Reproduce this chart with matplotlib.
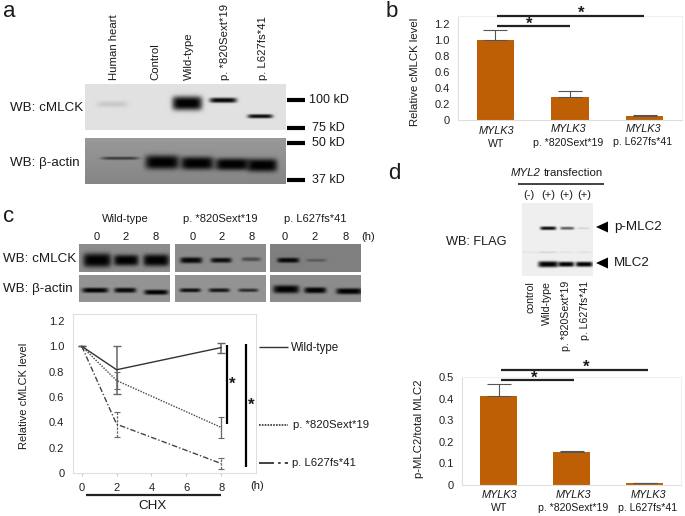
import numpy as np
import matplotlib
matplotlib.use('Agg')
import matplotlib.pyplot as plt

plt.rcParams['font.family'] = ['Liberation Sans', 'DejaVu Sans']
W, H = 685, 516

# panel b
b_values = [1.0, 0.285, 0.045]
b_errors = [0.12, 0.075, 0.02]
b_ticks = [0, 0.2, 0.4, 0.6, 0.8, 1.0, 1.2]
b_ticklabels = ['0', '0.2', '0.4', '0.6', '0.8', '1.0', '1.2']

# panel d
d_values = [0.413, 0.153, 0.006]
d_errors = [0.057, 0.006, 0.004]
d_ticks = [0, 0.1, 0.2, 0.3, 0.4, 0.5]
d_ticklabels = ['0', '0.1', '0.2', '0.3', '0.4', '0.5']

# panel c
hours = [0, 2, 8]
wt_level = [1.0, 0.815, 0.99]
wt_err = [0, 0.19, 0.04]
sext_level = [1.0, 0.73, 0.36]
sext_err = [0, 0.07, 0.085]
fs_level = [1.0, 0.385, 0.075]
fs_err = [0, 0.1, 0.045]
c_xticks = [0, 2, 4, 6, 8]
c_yticks = [0, 0.2, 0.4, 0.6, 0.8, 1.0, 1.2]
c_yticklabels = ['0', '0.2', '0.4', '0.6', '0.8', '1.0', '1.2']

# band strengths on the blots
a_lanes_top = [0.1, 1.0, 0.97, 0.95]
a_lanes_actin = [0.6, 1.0, 1.0, 1.0, 1.0]
c_mlck = [1.0, 1.0, 1.0, 0.95, 0.9, 0.45, 0.95, 0.3]
c_actin = [1.0, 0.95, 1.0, 0.9, 0.85, 0.7, 1.0, 1.0, 1.0]
d_phospho = [0.95, 0.6, 0.12]
d_total = [1.0, 1.0, 1.0]

BAR = '#bf5f05'
fig = plt.figure(figsize=(W / 100, H / 100), dpi=100)


def px_axes(l, t, r, b):
    return fig.add_axes([l / W, 1 - b / H, (r - l) / W, (b - t) / H])


def soft_axes(ax):
    for s in ['top', 'right', 'left', 'bottom']:
        ax.spines[s].set_color('#dedede')
        ax.spines[s].set_linewidth(0.8)
    ax.tick_params(labelsize=8, length=0, colors='#222222', pad=6)


def bar_panel(ax, values, errors, ymax, ticks, ticklabels):
    ax.bar(range(3), values, width=0.5, color=BAR)
    ax.errorbar(range(3), values, yerr=[[0, 0, 0], errors], fmt='none', ecolor='#555555',
                elinewidth=0.8, capsize=8.5, capthick=0.8)
    ax.set_xlim(-0.5, 2.5)
    ax.set_ylim(0, ymax)
    ax.set_xticks([])
    ax.set_yticks(ticks)
    ax.set_yticklabels(ticklabels)
    soft_axes(ax)
    ax.spines['top'].set_color('#f0f0f0')
    ax.spines['right'].set_color('#f0f0f0')


ax_b = px_axes(458, 16, 682, 120)
bar_panel(ax_b, b_values, b_errors, 1.3, b_ticks, b_ticklabels)
ax_d = px_axes(462, 377.3, 681, 484.7)
bar_panel(ax_d, d_values, d_errors, 0.5, d_ticks, d_ticklabels)

# line panel
ax_c = px_axes(72.7, 314, 256, 473)
ax_c.errorbar(hours, wt_level, yerr=wt_err, color='#333333', ecolor='#666666', lw=1, elinewidth=1.1,
              capsize=3, capthick=1)
ax_c.errorbar(hours, sext_level, yerr=sext_err, color='#444444', ecolor='#666666', lw=1, ls=(0, (1, 1)),
              elinewidth=0.9, capsize=2.5, capthick=0.8)
l = ax_c.errorbar(hours, fs_level, yerr=fs_err, color='#444444', ecolor='#666666', lw=1, ls=(0, (4, 1.5, 1, 1.5)),
                  elinewidth=0.9, capsize=2.5, capthick=0.8)
for container in ax_c.containers:
    container[2][0].set_linestyle((0, (2, 1)) if container is l else '-')
ax_c.set_xlim(-0.52, 10)
ax_c.set_ylim(0, 1.255)
ax_c.set_xticks(c_xticks)
ax_c.set_yticks(c_yticks)
ax_c.set_yticklabels(c_yticklabels)
soft_axes(ax_c)
ax_c.tick_params(axis='x', length=2, color='#cccccc', pad=5)

# everything placed in pixels: blots, labels, brackets
ov = fig.add_axes([0, 0, 1, 1], zorder=5)
ov.patch.set_alpha(0)


def blot(x0, x1, y0, y1, bg, bands, wave=0.0):
    xx, yy = np.meshgrid(np.arange(x0, x1, 0.5), np.arange(y0, y1, 0.5))
    img = np.full(xx.shape, bg) + wave * (yy - y0) / (y1 - y0)
    for cx, cy, w, h, s in bands:
        d = s * np.exp(-np.abs((xx - cx) / (w / 2)) ** 6 - np.abs((yy - cy) / (h / 2)) ** 3)
        img = img * (1 - np.clip(d, 0, 0.99))
    ov.imshow(img, extent=(x0, x1, y1, y0), cmap='gray', vmin=0, vmax=1, aspect='auto',
              interpolation='bilinear')


def band_rows(xs, ys, ws, hs, strengths):
    return list(zip(xs, ys, ws, hs, strengths))


# a blots
blot(85, 286, 84, 130, 0.88, band_rows([112, 187, 223, 260], [104, 103, 100, 116], [30, 30, 27, 25],
                                       [6, 14, 5, 4], a_lanes_top))
blot(85, 286, 138, 184, 0.6, band_rows([120, 162, 197, 232, 262], [158, 162, 163, 164, 165],
                                       [37, 34, 33, 34, 30], [3, 14, 13, 12, 13], a_lanes_actin), wave=-0.08)
# c blots
blot(79, 170, 244, 272, 0.55, band_rows([97, 126, 156], [260, 260, 260], [28, 25, 26], [14, 11, 12], c_mlck[:3]))
blot(175, 266, 244, 272, 0.55, band_rows([191, 221, 251], [260, 260, 259], [22, 21, 19], [6, 5, 4], c_mlck[3:6]))
blot(270, 361, 244, 272, 0.5, band_rows([288, 316], [260, 260], [22, 20], [5, 3], c_mlck[6:]))
blot(79, 170, 275, 302, 0.58, band_rows([95, 125, 156], [290, 290, 292], [26, 22, 24], [5, 5, 5], c_actin[:3]))
blot(175, 266, 275, 302, 0.58, band_rows([190, 219, 248], [290, 290, 290], [21, 21, 20], [4, 4, 3.5], c_actin[3:6]))
blot(270, 361, 275, 302, 0.55, band_rows([286, 315, 349], [289, 290, 291], [26, 22, 26], [8, 6, 6], c_actin[6:]))
# d blot
blot(522, 593, 203, 276, 0.94, band_rows([548, 567, 583], [228, 228, 228], [16, 14, 12], [3.5, 3, 2], d_phospho)
     + band_rows([548, 566, 584], [264, 264, 264], [20, 16, 17], [6, 5, 5], d_total)
     + band_rows([548, 566, 584, 529], [252, 252, 252, 252], [18, 16, 16, 30], [2, 2, 2, 2], [0.1, 0.06, 0.06, 0.05]))


def txt(x, y, s, size=8.2, ha='left', va='center', **kw):
    kw.setdefault('color', '#1a1a1a')
    ov.text(x, y, s, fontsize=size, ha=ha, va=va, **kw)


def hline(x0, x1, y, lw=1.6, color='#222222', **kw):
    ov.plot([x0, x1], [y, y], color=color, lw=lw, solid_capstyle='butt', **kw)


def vline(x, y0, y1, lw=1.6):
    ov.plot([x, x], [y0, y1], color='black', lw=lw, solid_capstyle='butt')


def star(x, y, size=12):
    ov.text(x, y + 2.5, '*', fontsize=size, ha='center', va='center', fontweight='bold', color='#1a1a1a')


# panel letters
for letter, x, y in [('a', 3, 17), ('b', 386, 17), ('c', 3, 222), ('d', 388, 179)]:
    txt(x, y, letter, size=16, va='baseline')

# a labels
for x, s in zip([114, 155, 189, 225, 263], ['Human heart', 'Control', 'Wild-type', 'p. *820Sext*19', 'p. L627fs*41']):
    txt(x, 80, s, ha='center', va='bottom', rotation=90)
txt(10, 108, 'WB: cMLCK', size=9.6)
txt(10, 163, 'WB: β-actin', size=9.6)
for y, s, x in [(100, '100 kD', 309), (128, '75 kD', 312), (143, '50 kD', 312), (180, '37 kD', 312)]:
    hline(287, 305, y, lw=3, color='black')
    txt(x, y, s, size=9)

# b labels
txt(415, 72, 'Relative cMLCK level', ha='center', rotation=90, size=8.2)
for x, y0, y1, s in [(496, 131, 144, 'WT'), (568, 129, 143, 'p. *820Sext*19'), (643, 129, 142, 'p. L627fs*41')]:
    txt(x, y0, 'MYLK3', ha='center', style='italic', size=7.8)
    txt(x, y1, s, ha='center', size=7.6)
hline(497, 644, 16)
hline(497, 570, 26)
star(581, 11)
star(529, 22)

# c labels
for x, s in zip([125, 220, 315], ['Wild-type', 'p. *820Sext*19', 'p. L627fs*41']):
    txt(x, 219, s, ha='center', size=8)
for x, s in zip([97, 126, 156, 193, 222, 252, 285, 315, 346], ['0', '2', '8'] * 3):
    txt(x, 237, s, ha='center', size=8)
txt(368, 237, '(h)', ha='center', size=8)
txt(3, 259, 'WB: cMLCK', size=9.6)
txt(3, 289, 'WB: β-actin', size=9.6)
txt(24, 396, 'Relative cMLCK level', ha='center', rotation=90, size=8)
vline(226.7, 345, 424)
vline(245.7, 344, 467)
star(232, 382)
star(251, 403)
hline(259, 288, 347, lw=1, color='#333333')
txt(291, 348, 'Wild-type', size=8.3)
ov.plot([259, 288], [425, 425], color='#333333', lw=1.2, ls=(0, (1, 0.7)))
txt(293, 425, 'p. *820Sext*19', size=8.2)
ov.plot([259, 288], [463, 463], color='#222222', lw=1.2, ls=(0, (9, 2.5, 1.5, 2.5, 4, 2)))
txt(292, 463, 'p. L627fs*41', size=8.2)
hline(86, 221, 495)
txt(153, 506, 'CHX', ha='center', size=9.6)
txt(257, 486, '(h)', ha='center', size=8)

# d labels
txt(511, 173, 'MYL2', style='italic', size=8.2)
txt(544, 173, 'transfection', size=8.2)
hline(518, 604, 184, lw=1.2)
for x, s in zip([529, 548, 566, 584], ['(-)', '(+)', '(+)', '(+)']):
    txt(x, 195, s, ha='center', size=8)
for x, s in zip([531, 547, 566, 585], ['control', 'Wild-type', 'p. *820Sext*19', 'p. L627fs*41']):
    txt(x, 281, s, ha='center', va='top', rotation=90, size=7.6)
for y, s in [(227, 'p-MLC2'), (263, 'MLC2')]:
    ov.fill([596, 608, 608], [y, y - 5.5, y + 5.5], color='black', lw=0)
    txt(614, y, s, size=9.6)
txt(446, 242, 'WB: FLAG', size=9.2)
txt(419, 429, 'p-MLC2/total MLC2', ha='center', rotation=90, size=8.2)
for x, s in [(499, 'WT'), (573, 'p. *820Sext*19'), (648, 'p. L627fs*41')]:
    txt(x, 495, 'MYLK3', ha='center', style='italic', size=7.8)
    txt(x, 508, s, ha='center', size=7.6)
hline(501, 648, 370)
hline(501, 574, 380)
star(586, 365)
star(534, 376)

ov.set_xlim(0, W)
ov.set_ylim(H, 0)
ov.axis('off')

fig.savefig('out.png', dpi=100)
